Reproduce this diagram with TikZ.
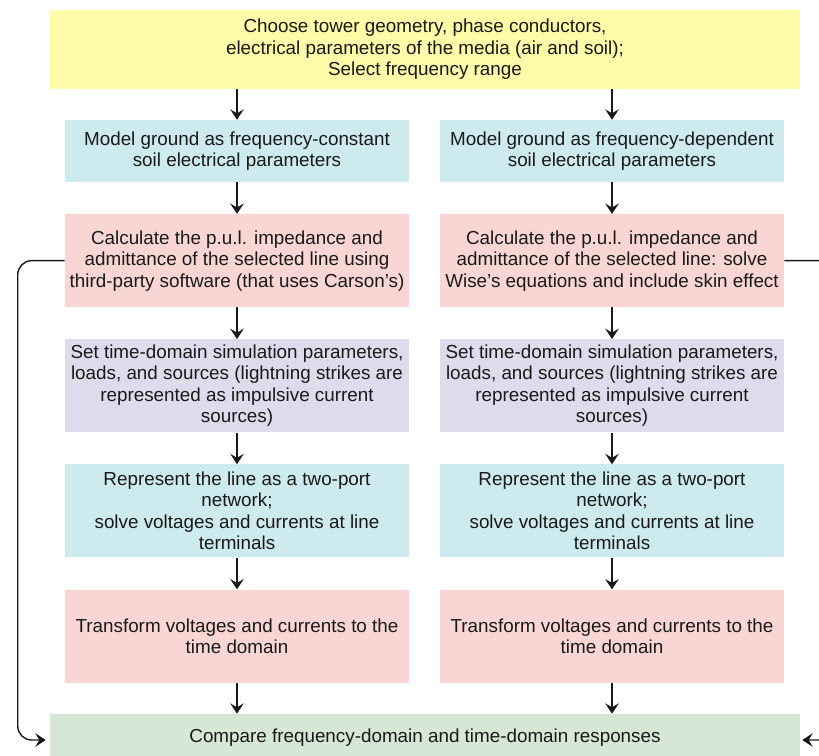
\documentclass[tikz,border=0pt]{standalone}
\usepackage{fontspec}
\setmainfont{Liberation Sans}
\usepackage{tikz}
\usetikzlibrary{arrows.meta,positioning,calc}
\definecolor{topyellow}{HTML}{FFFBA8}
\definecolor{soilteal}{HTML}{CDEBEF}
\definecolor{calcred}{HTML}{F9D6D3}
\definecolor{simpurple}{HTML}{DEDCEC}
\definecolor{cmpgreen}{HTML}{D6E8D5}
\tikzset{
    flow/.style={-{Stealth[length=2.6mm, width=3.4mm, inset=1mm]}, line width=1pt, black!90},
    feed/.style={-{Stealth[length=2.6mm, width=3.4mm, inset=1mm]}, line width=1pt, black!90, rounded corners=0.35cm}
}

\begin{document}
\begin{tikzpicture}[
            node distance=0.79cm,
            box/.style={rectangle, inner sep=0pt, align=center, text=black!90,
                minimum width=8.6cm, minimum height=2.325cm,
                font=\fontsize{13.4pt}{15.3pt}\selectfont},
            wide/.style={box, minimum width=18.75cm}
        ]
            \useasboundingbox (0,0) rectangle (20.475,-18.875);

            % Start
            \node[wide, fill=topyellow, minimum height=1.975cm] (start) at (10.625,-1.2375)
                {Choose tower geometry, phase conductors,\\electrical parameters of the media (air and soil);\\Select frequency range};

            % Frequency-constant branch
            \node[box, fill=soilteal, minimum height=1.55cm] (l2) at (5.925,-3.775)
                {Model ground as frequency-constant\\soil electrical parameters};
            \node[box, fill=calcred, below=of l2] (l3)
                {Calculate the p.u.l. impedance and\\admittance of the selected line using\\third-party software (that uses Carson's)};
            \node[box, fill=simpurple, below=of l3] (l4)
                {Set time-domain simulation parameters,\\loads, and sources (lightning strikes are\\represented as impulsive current\\sources)};
            \node[box, fill=soilteal, below=of l4] (l5)
                {Represent the line as a two-port\\network;\\solve voltages and currents at line\\terminals};
            \node[box, fill=calcred, below=of l5] (l6)
                {Transform voltages and currents to the\\time domain};

            % Frequency-dependent branch
            \node[box, fill=soilteal, minimum height=1.55cm] (r2) at (15.3,-3.775)
                {Model ground as frequency-dependent\\soil electrical parameters};
            \node[box, fill=calcred, below=of r2] (r3)
                {Calculate the p.u.l. impedance and\\admittance of the selected line: solve\\Wise's equations and include skin effect};
            \node[box, fill=simpurple, below=of r3] (r4)
                {Set time-domain simulation parameters,\\loads, and sources (lightning strikes are\\represented as impulsive current\\sources)};
            \node[box, fill=soilteal, below=of r4] (r5)
                {Represent the line as a two-port\\network;\\solve voltages and currents at line\\terminals};
            \node[box, fill=calcred, below=of r5] (r6)
                {Transform voltages and currents to the\\time domain};

            % Comparison
            \node[wide, fill=cmpgreen, minimum height=1.2cm] (cmp) at (10.625,-18.45)
                {Compare frequency-domain and time-domain responses};

            \draw[flow] (start.south -| l2) -- (l2);
            \draw[flow] (start.south -| r2) -- (r2);
            \draw[flow] (l2) -- (l3);
            \draw[flow] (l3) -- (l4);
            \draw[flow] (l4) -- (l5);
            \draw[flow] (l5) -- (l6);
            \draw[flow] (l6) -- (cmp.north -| l6);
            \draw[flow] (r2) -- (r3);
            \draw[flow] (r3) -- (r4);
            \draw[flow] (r4) -- (r5);
            \draw[flow] (r5) -- (r6);
            \draw[flow] (r6) -- (cmp.north -| r6);

            % Feedback to comparison
            \draw[feed] (l3.west) -- ($(l3.west)+(-1.175,0)$) |- ($(cmp.west)+(-0.1,-0.05)$);
            \draw[feed] (r3.east) -- ($(r3.east)+(1.5,0)$) |- ($(cmp.east)+(0.05,-0.05)$);
        \end{tikzpicture}
\end{document}
